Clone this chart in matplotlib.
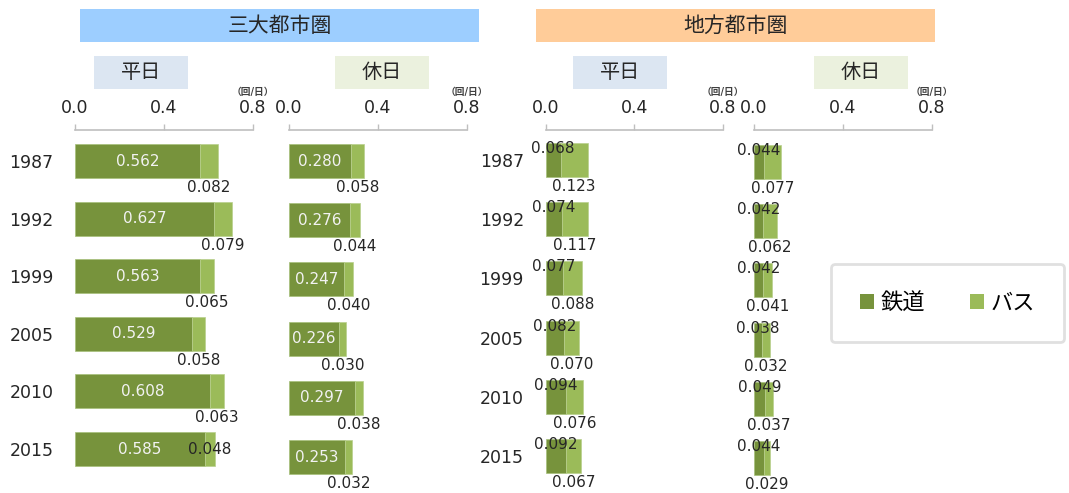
import matplotlib.pyplot as plt
from matplotlib.patches import Rectangle, Patch

plt.rcParams['font.family'] = ['DejaVu Sans', 'Noto Sans CJK JP']

years = ['1987', '1992', '1999', '2005', '2010', '2015']

# 三大都市圏 (回/日)
metro_weekday_rail = [0.562, 0.627, 0.563, 0.529, 0.608, 0.585]
metro_weekday_bus = [0.082, 0.079, 0.065, 0.058, 0.063, 0.048]
metro_holiday_rail = [0.280, 0.276, 0.247, 0.226, 0.297, 0.253]
metro_holiday_bus = [0.058, 0.044, 0.040, 0.030, 0.038, 0.032]

# 地方都市圏 (回/日)
local_weekday_rail = [0.068, 0.074, 0.077, 0.082, 0.094, 0.092]
local_weekday_bus = [0.123, 0.117, 0.088, 0.070, 0.076, 0.067]
local_holiday_rail = [0.044, 0.042, 0.042, 0.038, 0.049, 0.044]
local_holiday_bus = [0.077, 0.062, 0.041, 0.032, 0.037, 0.029]

regions = ['三大都市圏', '地方都市圏']
day_types = ['平日', '休日']
series_names = ['鉄道', 'バス']
xticks = [0.0, 0.4, 0.8]

RAIL = '#77933C'
BUS = '#9BBB59'
TXT = '#262626'

W, H = 1069, 493


def fx(px):
    return px / W


def fy(py):
    return 1 - py / H


fig = plt.figure(figsize=(W / 100, H / 100), dpi=100)

# header boxes
for name, x0, x1, col in [(regions[0], 80, 479, '#9DCEFF'), (regions[1], 536, 935, '#FFCC99')]:
    fig.add_artist(Rectangle((fx(x0), fy(42)), (x1 - x0) / W, 33 / H,
                             transform=fig.transFigure, facecolor=col, edgecolor='none'))
    fig.text(fx((x0 + x1) / 2), fy(26), name, ha='center', va='center', fontsize=15, color=TXT)

for name, x0, col in [(day_types[0], 94, '#DCE6F2'), (day_types[1], 335, '#EBF1DE'),
                      (day_types[0], 573, '#DCE6F2'), (day_types[1], 814, '#EBF1DE')]:
    fig.add_artist(Rectangle((fx(x0), fy(89)), 94 / W, 33 / H,
                             transform=fig.transFigure, facecolor=col, edgecolor='none'))
    fig.text(fx(x0 + 47), fy(73), name, ha='center', va='center', fontsize=14.5, color=TXT)

# rail, bus, left px of 0.0, first row centre px, row step px, white labels, year labels
panels = [
    (metro_weekday_rail, metro_weekday_bus, 75, 161, 57.6, True, True),
    (metro_holiday_rail, metro_holiday_bus, 289, 161, 59.2, True, False),
    (local_weekday_rail, local_weekday_bus, 545.5, 160, 59.2, False, True),
    (local_holiday_rail, local_holiday_bus, 754, 162, 59.2, False, False),
]

top_px, bot_px = 130, 490
for pi, (rail, bus, x0, c0, step, inner, show_years) in enumerate(panels):
    ax = fig.add_axes([fx(x0), fy(bot_px), 177.5 / W, (bot_px - top_px) / H])
    ax.set_xlim(0, 0.8)
    ax.set_ylim((bot_px - c0) / step, (top_px - c0) / step)
    pos = list(range(len(years)))
    h = 34 / step
    ax.barh(pos, rail, height=h, color=RAIL, edgecolor='#A6C07A', linewidth=0.5)
    ax.barh(pos, bus, left=rail, height=h, color=BUS, edgecolor='#B9D08E', linewidth=0.5)

    for i, (r, b) in enumerate(zip(rail, bus)):
        if inner:
            ax.text(r / 2, i, f'{r:.3f}', ha='center', va='center', fontsize=11, color='#F2F2F2')
        else:
            ax.annotate(f'{r:.3f}', (r / 2, i - h / 2), xytext=(0, 1.5), textcoords='offset points',
                        ha='center', va='top', fontsize=11, color=TXT)
        if pi == 0 and years[i] == '2015':
            ax.text(r + b / 2, i, f'{b:.3f}', ha='center', va='center', fontsize=11, color=TXT)
        else:
            ax.annotate(f'{b:.3f}', (r + b / 2, i + h / 2), xytext=(0, -1.5), textcoords='offset points',
                        ha='center', va='top', fontsize=11, color=TXT)

    for s in ['left', 'right', 'bottom']:
        ax.spines[s].set_visible(False)
    ax.spines['top'].set_color('#BFBFBF')
    ax.spines['top'].set_linewidth(1.2)
    ax.xaxis.tick_top()
    ax.set_xticks(xticks)
    ax.set_xticklabels([f'{t:.1f}' for t in xticks])
    ax.tick_params(axis='x', direction='out', length=4.5, width=1, color='#BFBFBF',
                   labelsize=12.5, labelcolor=TXT, pad=5)
    ax.set_yticks(pos)
    if show_years:
        ax.set_yticklabels(years)
    else:
        ax.set_yticklabels([])
    ax.tick_params(axis='y', length=0, labelsize=12.5, labelcolor=TXT, pad=15.5)
    ax.patch.set_visible(False)

    fig.text(fx(x0 + 177.5), fy(92), '（回/日）', ha='center', va='center', fontsize=7,
             fontweight='bold', color='#404040')

handles = [Patch(facecolor=RAIL, label=series_names[0]), Patch(facecolor=BUS, label=series_names[1])]
leg = fig.legend(handles=handles, loc='center', bbox_to_anchor=(fx(947.5), fy(303)), ncol=2,
                 fontsize=16, frameon=True, fancybox=True, handlelength=0.65, handleheight=0.65,
                 handletextpad=0.3, columnspacing=2.0, borderpad=1.3, borderaxespad=0)
leg.get_frame().set_edgecolor('#D9D9D9')
leg.get_frame().set_linewidth(2)

fig.savefig('out.png', dpi=100)
